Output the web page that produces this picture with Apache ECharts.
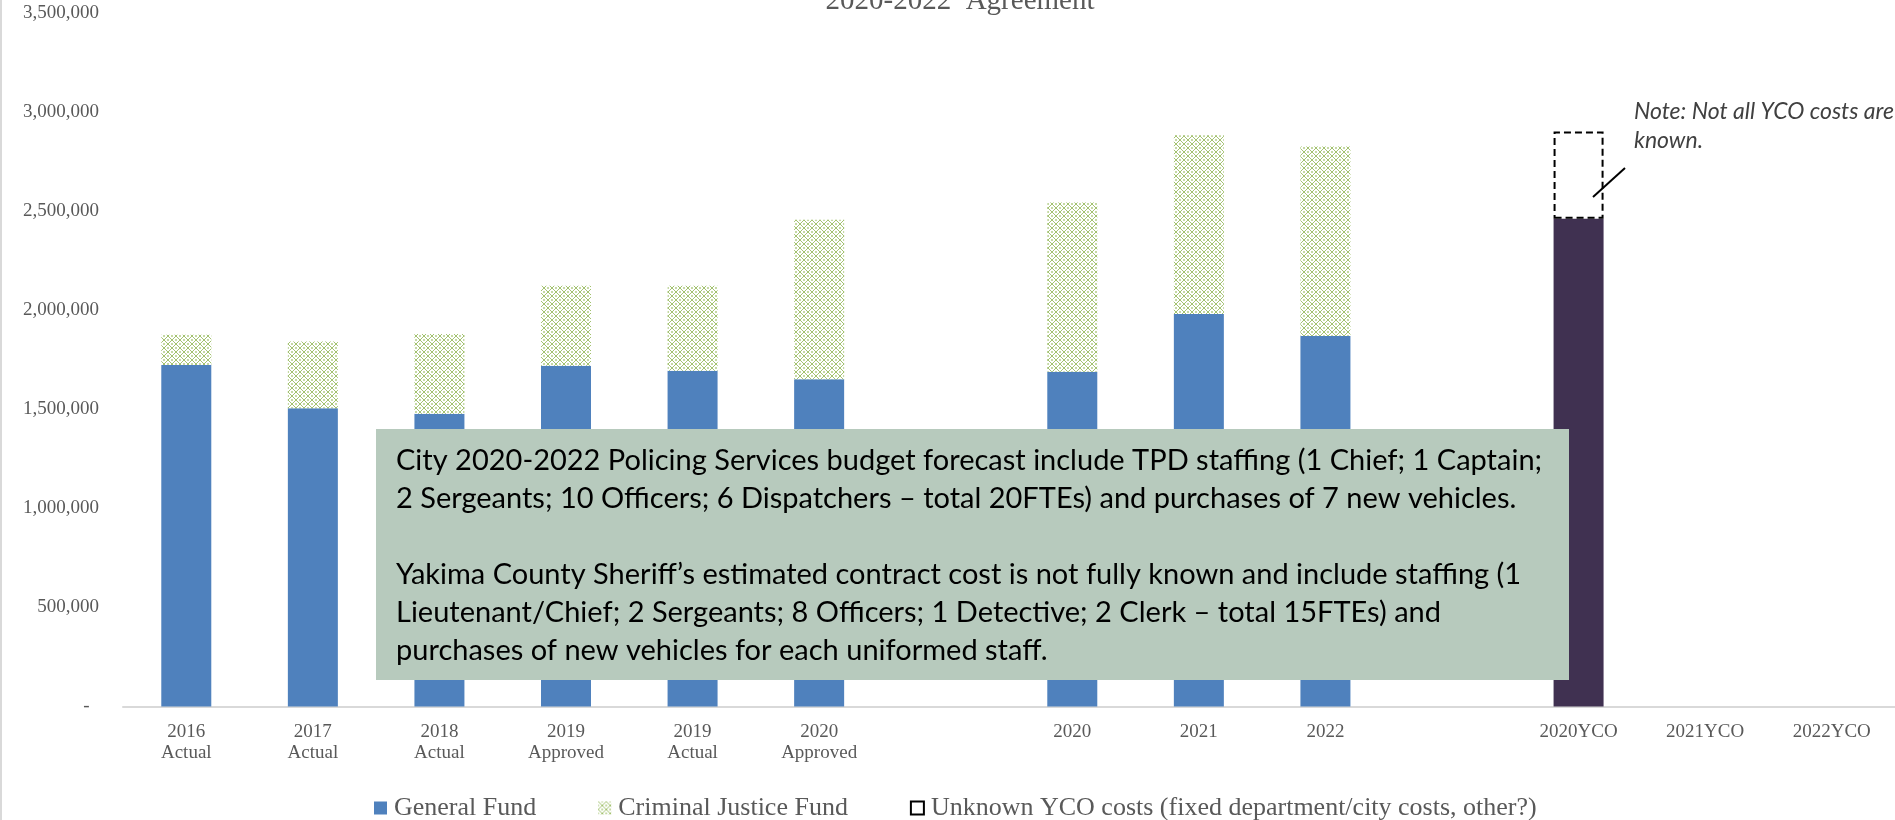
<!DOCTYPE html>
<html>
<head>
<meta charset="utf-8">
<script src="https://cdn.jsdelivr.net/npm/echarts@6/dist/echarts.min.js"></script>
<style>
  html, body { margin: 0; padding: 0; background: #fff; }
  #main { width: 1895px; height: 820px; }
</style>
</head>
<body>
<div id="main"></div>
<script>
// categories ('' = blank gap columns)
var categories = ['2016\nActual', '2017\nActual', '2018\nActual', '2019\nApproved', '2019\nActual', '2020\nApproved', '',
  '2020', '2021', '2022', '', '2020YCO', '2021YCO', '2022YCO'];

var generalFund = [1724000, 1505000, 1478000, 1720000, 1694000, 1651000, null, 1689000, 1981000, 1870000, null, null, null, null];
var criminalJustice = [152000, 337000, 402000, 403000, 429000, 806000, null, 854000, 902000, 956000, null, null, null, null];
var ycoContract = [null, null, null, null, null, null, null, null, null, null, null, 2461000, null, null];
var unknownYco = [null, null, null, null, null, null, null, null, null, null, null, 441000, null, null];

var yTicks = { min: 0, max: 3500000, interval: 500000 };

// green lattice fill like the excel pattern
function makePattern() {
  var c = document.createElement('canvas');
  c.width = 8; c.height = 8;
  var g = c.getContext('2d');
  g.fillStyle = '#ffffff';
  g.fillRect(0, 0, 8, 8);
  g.strokeStyle = '#a3c270';
  g.lineWidth = 1;
  g.beginPath();
  g.moveTo(0, 0); g.lineTo(8, 8);
  g.moveTo(8, 0); g.lineTo(0, 8);
  g.stroke();
  g.fillStyle = '#c5d9a4';
  g.fillRect(0, 3, 1, 2);
  g.fillRect(7, 3, 1, 2);
  g.fillRect(3, 0, 2, 1);
  g.fillRect(3, 7, 2, 1);
  return c;
}

var chart = echarts.init(document.getElementById('main'), null, { renderer: 'canvas' });

var serif = 'Liberation Serif';
var grey = '#595959';

var option = {
  animation: false,
  backgroundColor: '#ffffff',
  grid: { left: 123, right: 0, top: 13, bottom: 113.5 },
  legend: {
    data: ['General Fund', 'Criminal Justice Fund', 'Unknown YCO costs (fixed department/city costs, other?)'],
    left: 369,
    top: 790,
    icon: 'rect',
    itemWidth: 13,
    itemHeight: 13,
    itemGap: 62,
    textStyle: { fontFamily: serif, fontSize: 26, color: grey, padding: [0, 0, 0, 2] }
  },
  xAxis: {
    type: 'category',
    data: categories,
    axisTick: { show: false },
    axisLine: { lineStyle: { color: '#d9d9d9', width: 2 } },
    axisLabel: { interval: 0, fontFamily: serif, fontSize: 19, lineHeight: 21, color: grey, margin: 15 }
  },
  yAxis: {
    type: 'value',
    min: yTicks.min,
    max: yTicks.max,
    interval: yTicks.interval,
    splitLine: { show: false },
    axisLine: { show: false },
    axisTick: { show: false },
    axisLabel: {
      fontFamily: serif, fontSize: 19, color: grey, margin: 24,
      formatter: function (v) { return v === 0 ? '-  ' : v.toLocaleString('en-US'); }
    }
  },
  series: [
    {
      name: 'General Fund', type: 'bar', stack: 'total', barWidth: 50,
      itemStyle: { color: '#4f81bd' },
      data: generalFund
    },
    {
      name: 'Criminal Justice Fund', type: 'bar', stack: 'total', barWidth: 50,
      itemStyle: { color: { image: makePattern(), repeat: 'repeat' } },
      data: criminalJustice
    },
    {
      name: 'YCO Contract', type: 'bar', stack: 'total', barWidth: 50,
      itemStyle: { color: '#403151' },
      data: ycoContract
    },
    {
      name: 'Unknown YCO costs (fixed department/city costs, other?)', type: 'bar', stack: 'total', barWidth: 50,
      itemStyle: { color: 'rgba(255,255,255,0)', borderColor: '#000000', borderWidth: 2, borderType: [7, 4] },
      data: unknownYco
    }
  ],
  graphic: [
    { type: 'line', shape: { x1: 1, y1: 0, x2: 1, y2: 820 }, style: { stroke: '#d9d9d9', lineWidth: 2 } },
    {
      type: 'text', x: 960, y: -13,
      style: { text: '2020-2022  Agreement', font: '29px "Liberation Serif"', fill: grey, textAlign: 'center' }
    },
    {
      type: 'rect', shape: { x: 376, y: 429, width: 1193, height: 251 },
      style: { fill: '#b7cabd' }, z: 10
    },
    {
      type: 'text', x: 396, y: 442, z: 11,
      style: {
        text: 'City 2020-2022 Policing Services budget forecast include TPD staffing (1 Chief; 1 Captain;\n' +
          '2 Sergeants; 10 Officers; 6 Dispatchers \u2013 total 20FTEs) and purchases of 7 new vehicles.\n\n' +
          'Yakima County Sheriff\u2019s estimated contract cost is not fully known and include staffing (1\n' +
          'Lieutenant/Chief; 2 Sergeants; 8 Officers; 1 Detective; 2 Clerk \u2013 total 15FTEs) and\n' +
          'purchases of new vehicles for each uniformed staff.',
        font: '29px Lato', lineHeight: 38, fill: '#000000'
      }
    },
    {
      type: 'text', x: 1634, y: 97,
      style: { text: 'Note: Not all YCO costs are\nknown.', font: 'italic 23px Lato', lineHeight: 29, fill: '#404040' }
    },
    { type: 'line', shape: { x1: 1593, y1: 197, x2: 1625, y2: 168 }, style: { stroke: '#000000', lineWidth: 2 } }
  ]
};

chart.setOption(option);
</script>
</body>
</html>
